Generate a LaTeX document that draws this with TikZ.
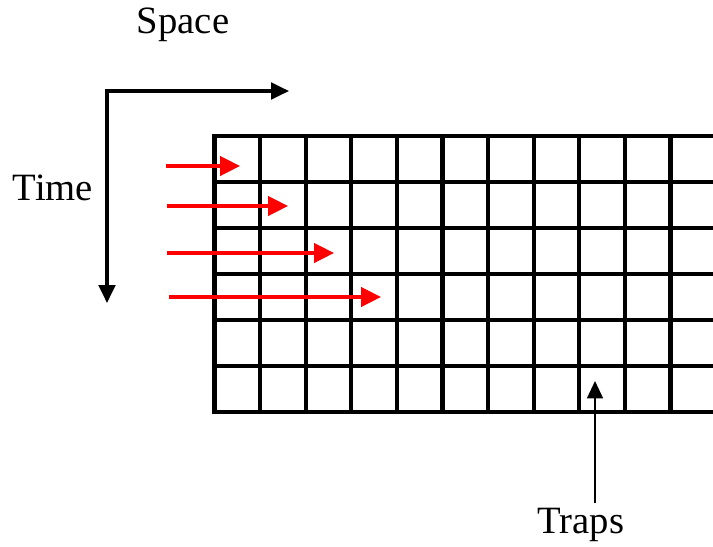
\documentclass[tikz,border=0pt]{standalone}
\usepackage{fontspec}
\setmainfont{Liberation Serif}
\usetikzlibrary{arrows.meta}
\usetikzlibrary{positioning}

\begin{document}
\begin{tikzpicture}[x=0.75pt, y=-0.75pt,
    every node/.style={font=\fontsize{29}{34}\selectfont, inner sep=3pt},
    gridline/.style={line width=3.1pt, line cap=rect},
    axisline/.style={line width=2.6pt, {Triangle[length=13.5pt, width=12.5pt]}-{Triangle[length=13.5pt, width=12.5pt]}},
    scanline/.style={red, line width=2.5pt, -{Triangle[length=15pt, width=14.5pt]}},
    trapline/.style={line width=1.1pt, -{Triangle[length=13pt, width=12pt]}}]

        \useasboundingbox (0,0) rectangle (713,546);

        % Left and top edge of the grid
        \def\gleft{214.5}
        \def\gtop{135.7}

        % Right edge (the grid runs off the page)
        \def\gright{713}

        % Cell width and height
        \def\colstep{45.6}
        \def\rowstep{46}

        % Number of rows
        \def\nrows{6}

        % Horizontal grid lines
        \foreach \j in {0,...,\nrows} {
          \draw[gridline] (\gleft, {\gtop+\j*\rowstep}) -- (\gright, {\gtop+\j*\rowstep});
        }

        % Vertical grid lines
        \foreach \i in {0,...,10} {
          \draw[gridline] ({\gleft+\i*\colstep}, \gtop) -- ({\gleft+\i*\colstep}, {\gtop+\nrows*\rowstep});
        }

        % Space and time axes
        \coordinate (corner) at (107,91);
        \coordinate (spaceend) at (289,91);
        \coordinate (timeend) at (107,303);
        \draw[axisline] (spaceend) -- (corner) -- (timeend);

        \node (space) at (183,25) {Space};
        \node (time) at (53,188) {Time};

        % Red arrows, one cell longer on each row
        \foreach \y/\xs/\xe [count=\k] in {166/166/240, 206/167/288, 253/167/334, 297/169/381} {
          \coordinate (s\k) at (\xs,\y);
          \coordinate (e\k) at (\xe,\y);
          \draw[scanline] (s\k) -- (e\k);
        }

        % Traps label and its pointer
        \node[anchor=base] (traps) at (581,533) {Traps};
        \coordinate (trapcell) at (595,381);
        \draw[trapline] (traps.north -| trapcell) -- (trapcell);

\end{tikzpicture}
\end{document}
